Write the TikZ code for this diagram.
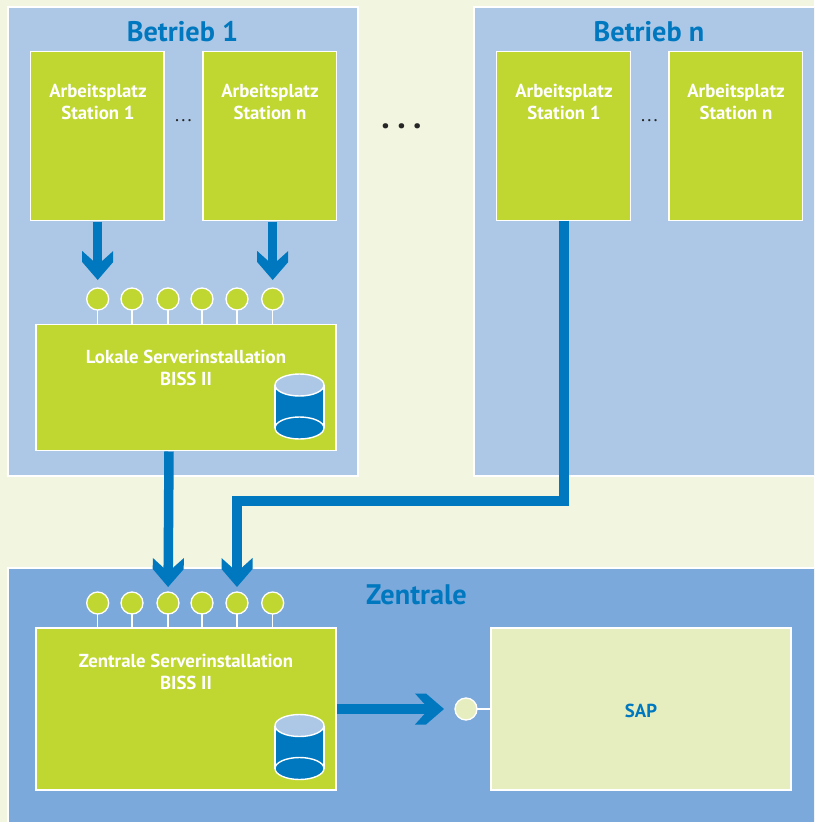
\documentclass[tikz,border=0pt]{standalone}
\usepackage{fontspec}
\setmainfont{PT Sans}
\usetikzlibrary{arrows.meta}
\definecolor{paper}{HTML}{F2F6E0}
\definecolor{plant}{HTML}{ADC8E6}
\definecolor{central}{HTML}{7BA9DB}
\definecolor{lime}{HTML}{BFD730}
\definecolor{pale}{HTML}{E6EEC0}
\definecolor{flowblue}{HTML}{0078BF}
\pgfdeclarearrow{
  name=Chev,
  setup code={
    \pgfarrowssettipend{0pt}
    \pgfarrowssetlineend{-14pt}
    \pgfarrowssetvisualbackend{-29pt}
    \pgfarrowssetbackend{-29pt}
    \pgfarrowshullpoint{0pt}{0pt}
    \pgfarrowshullpoint{-29pt}{15.5pt}
    \pgfarrowshullpoint{-29pt}{-15.5pt}
  },
  drawing code={
    \pgfpathmoveto{\pgfqpoint{0pt}{0pt}}
    \pgfpathlineto{\pgfqpoint{-18pt}{15.5pt}}
    \pgfpathlineto{\pgfqpoint{-29pt}{15.5pt}}
    \pgfpathlineto{\pgfqpoint{-15pt}{0pt}}
    \pgfpathlineto{\pgfqpoint{-29pt}{-15.5pt}}
    \pgfpathlineto{\pgfqpoint{-18pt}{-15.5pt}}
    \pgfpathclose
    \pgfusepathqfill
  }
}
\tikzset{
  area/.style={draw=white,line width=1.3pt,inner sep=0pt,outer sep=0pt},
  plantbox/.style={area,fill=plant},
  centralbox/.style={area,fill=central},
  greenbox/.style={area,fill=lime},
  sapbox/.style={area,fill=pale},
  title/.style={font=\bfseries\fontsize{28.3}{30}\selectfont,text=flowblue,inner sep=0pt},
  lbl/.style={font=\bfseries\fontsize{18.8}{22}\selectfont,text=white,align=center,inner sep=0pt},
  port/.style={circle,draw=white,line width=1.3pt,fill=lime,minimum size=22pt,inner sep=0pt,outer sep=0pt},
  stem/.style={draw=white,line width=1.2pt},
  flow/.style={draw=flowblue,line width=9.5pt,-{Chev},line join=miter},
  stationbox/.style={greenbox,minimum width=133.5pt,minimum height=169pt},
  serverbox/.style={greenbox,minimum width=300pt},
}
\newcommand{\drum}[3]{%
  \fill[flowblue] (#1-24.5,#2) -- (#1-24.5,#2+43) arc[start angle=180,end angle=360,x radius=24.5pt,y radius=-11pt] -- (#1+24.5,#2) -- cycle;
  \draw[white,line width=1.4pt] (#1-24.5,#2) -- (#1-24.5,#2+43) (#1+24.5,#2) -- (#1+24.5,#2+43);
  \draw[white,line width=1.4pt,fill=flowblue] (#1,#2+43) ellipse[x radius=24.5pt,y radius=11pt];
  \draw[white,line width=1.4pt,fill=#3] (#1,#2) ellipse[x radius=24.5pt,y radius=11pt];
}
\begin{document}
\begin{tikzpicture}[x=1pt,y=-1pt]
\useasboundingbox (0,0) rectangle (814,822);
\fill[paper] (0,0) rectangle (814,822);
\clip (0,0) rectangle (814,822);
% areas
\node[plantbox,minimum width=350pt,minimum height=469pt] (b1) at (183,241.5) {};
\node[plantbox,minimum width=360pt,minimum height=469pt] (bn) at (654,241.5) {};
\node[centralbox,minimum width=826pt,minimum height=274pt] (z) at (421,705) {};
\node[title] (tb1) at (182.5,31.5) {Betrieb 1};
\node[title] (tbn) at (649,31.5) {Betrieb n};
\node[title] (tz) at (416.5,594.5) {Zentrale};
% stations
\node[stationbox] (s11) at (97.25,136) {};
\node[stationbox] (s1n) at (269.75,136) {};
\node[stationbox] (sn1) at (563.5,136) {};
\node[stationbox] (snn) at (735.75,136) {};
\node[lbl] (l11) at (98,102) {Arbeitsplatz\\Station 1};
\node[lbl] (l1n) at (270,102) {Arbeitsplatz\\Station n};
\node[lbl] (ln1) at (564,102) {Arbeitsplatz\\Station 1};
\node[lbl] (lnn) at (736,102) {Arbeitsplatz\\Station n};
\node[font=\fontsize{19}{19}\selectfont,text=black!85,inner sep=0pt] (d1) at (183.5,121) {.\hspace{2.2pt}.\hspace{2.2pt}.};
\node[font=\fontsize{19}{19}\selectfont,text=black!85,inner sep=0pt] (d2) at (649.5,121) {.\hspace{2.2pt}.\hspace{2.2pt}.};
\node[font=\bfseries\fontsize{34}{34}\selectfont,text=black!85,inner sep=0pt] (d3) at (401.5,126) {.\hspace{7.5pt}.\hspace{7.5pt}.};
% servers
\node[serverbox,minimum height=126pt] (srv) at (186,387.5) {};
\node[serverbox,minimum height=162pt] (zsrv) at (186,709) {};
\node[sapbox,minimum width=300pt,minimum height=162pt] (sap) at (641,709) {};
\node[lbl] (lsrv) at (186,368) {Lokale Serverinstallation\\BISS II};
\node[lbl] (lz) at (186,672) {Zentrale Serverinstallation\\BISS II};
\node[font=\bfseries\fontsize{18.8}{22}\selectfont,text=flowblue,inner sep=0pt] (lsap) at (641,711) {SAP};
\drum{299.5}{385}{plant}
\drum{299.5}{725.5}{plant}
% ports
\foreach \i/\px in {1/97.7,2/132,3/168,4/202,5/237,6/272.7}{
  \node[port] (a\i) at (\px,299) {};
  \draw[stem] (a\i) -- (a\i |- srv.north);
  \node[port] (c\i) at (\px,603) {};
  \draw[stem] (c\i) -- (c\i |- zsrv.north);
}
\node[port,fill=pale] (psap) at (466,709) {};
\draw[stem] (psap) -- (sap.west |- psap);
% flows
\draw[flow,shorten >=8pt] (a1 |- s11.south) ++(0,1) -- (a1);
\draw[flow,shorten >=8pt] (a6 |- s1n.south) ++(0,1) -- (a6);
\draw[flow,shorten >=5pt,xshift=1pt] (c3 |- srv.south) ++(1,1) -- ([xshift=1pt]c3);
\coordinate (bendA) at ([xshift=.5pt]sn1.south |- 0,501);
\coordinate (bendB) at (c5 |- bendA);
\draw[flow,shorten >=5pt] ([xshift=.5pt]sn1.south) -- (bendA) -- (bendB) -- (c5);
\draw[flow,shorten >=11pt] (zsrv.east) ++(1,0) -- (psap);
\end{tikzpicture}
\end{document}
